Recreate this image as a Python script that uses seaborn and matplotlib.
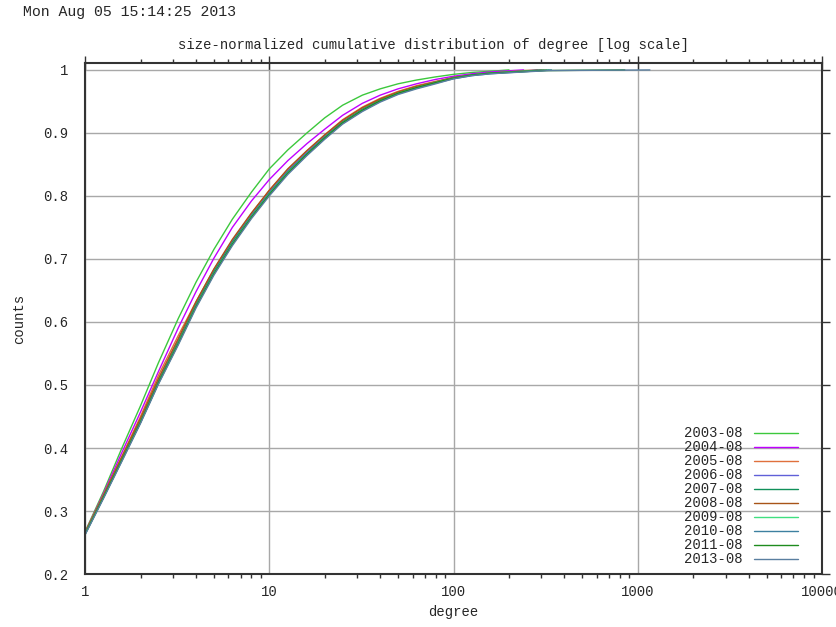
import numpy as np
import pandas as pd
import matplotlib
matplotlib.use('Agg')
import matplotlib.pyplot as plt
import matplotlib.ticker as mticker
import seaborn as sns

# data: cumulative share of nodes with degree <= d
months = ['2003-08', '2004-08', '2005-08', '2006-08', '2007-08',
          '2008-08', '2009-08', '2010-08', '2011-08', '2013-08']
degree = [1, 1.26, 1.58, 2, 2.5, 3.2, 4, 5, 6.3, 8, 10, 12.6, 16, 20, 25,
          32, 40, 50, 63, 80, 100, 126, 160]

cdf_2003 = [.267, .331, .399, .467, .535, .605, .663, .715, .763, .806, .843, .873, .900, .924, .944, .960, .970, .978, .984, .989, .993, .996, .998]
cdf_2004 = [.266, .328, .392, .457, .521, .590, .648, .701, .750, .792, .826, .856, .883, .906, .928, .947, .960, .970, .978, .985, .990, .994, .997]
cdf_2005 = [.266, .326, .386, .450, .515, .578, .632, .683, .729, .772, .809, .842, .871, .897, .921, .941, .955, .966, .975, .982, .988, .992, .995]
cdf_2006 = [.265, .324, .383, .444, .507, .570, .629, .681, .728, .770, .806, .840, .869, .895, .918, .938, .953, .964, .973, .981, .988, .992, .995]
cdf_2007 = [.264, .323, .381, .442, .505, .568, .627, .679, .726, .768, .804, .838, .867, .893, .917, .937, .952, .963, .972, .980, .987, .992, .995]
cdf_2008 = [.266, .325, .385, .447, .510, .573, .632, .684, .731, .773, .809, .843, .872, .897, .920, .940, .954, .965, .974, .981, .988, .992, .995]
cdf_2009 = [.264, .322, .380, .441, .503, .566, .625, .677, .724, .767, .803, .837, .866, .892, .916, .936, .951, .963, .972, .980, .987, .992, .995]
cdf_2010 = [.263, .321, .379, .440, .502, .565, .624, .676, .723, .766, .802, .836, .865, .891, .915, .935, .950, .962, .971, .979, .986, .991, .994]
cdf_2011 = [.263, .322, .380, .441, .503, .565, .624, .676, .723, .766, .802, .836, .866, .892, .916, .936, .951, .963, .972, .980, .987, .992, .995]
cdf_2013 = [.262, .320, .378, .439, .501, .563, .622, .674, .721, .764, .800, .834, .864, .890, .914, .934, .949, .961, .970, .978, .986, .991, .994]

# degree where the curve is ~0.999, and the max degree (curve = 1)
top_degree = [180, 210, 240, 260, 270, 280, 290, 300, 320, 330]
max_degree = [200, 240, 285, 300, 310, 320, 330, 340, 850, 1164]

colors = ['#3cc83c', '#c000ff', '#e0703c', '#6060d8', '#10905a',
          '#a85418', '#40e080', '#3d80a0', '#1e8c1e', '#5a7fa0']

all_cdf = [cdf_2003, cdf_2004, cdf_2005, cdf_2006, cdf_2007,
           cdf_2008, cdf_2009, cdf_2010, cdf_2011, cdf_2013]

rows = []
for m, vals, td, md in zip(months, all_cdf, top_degree, max_degree):
    for d, v in zip(degree, vals):
        rows.append((m, d, v))
    rows.append((m, td, 0.999))
    rows.append((m, md, 1.0))
df = pd.DataFrame(rows, columns=['month', 'degree', 'counts'])

sns.set_theme(style='white')
plt.rcParams['font.family'] = ['Liberation Mono', 'DejaVu Sans Mono']
plt.rcParams['font.size'] = 10

fig = plt.figure(figsize=(8.37, 6.27), dpi=100)
ax = fig.add_axes([0.1016, 0.0845, 0.8805, 0.815])

sns.lineplot(data=df, x='degree', y='counts', hue='month', palette=colors,
             sort=True, estimator=None, linewidth=1.0, ax=ax, legend=True)

ax.set_xscale('log')
ax.set_xlim(1, 10000)
ax.set_ylim(0.2, 1.011)
ax.set_xticks([1, 10, 100, 1000, 10000])
ax.set_xticklabels(['1', '10', '100', '1000', '10000'])
ax.xaxis.set_minor_locator(mticker.LogLocator(base=10, subs=np.arange(2, 10)))
ax.xaxis.set_minor_formatter(mticker.NullFormatter())
ax.set_yticks([0.2, 0.3, 0.4, 0.5, 0.6, 0.7, 0.8, 0.9, 1.0])
ax.set_yticklabels(['0.2', '0.3', '0.4', '0.5', '0.6', '0.7', '0.8', '0.9', '1'])

ax.grid(True, which='major', color='#a8a8a8', linewidth=1.0)
ax.set_axisbelow(True)
for s in ax.spines.values():
    s.set_color('#333333')
    s.set_linewidth(1.5)
ax.tick_params(axis='both', which='major', direction='out', length=6, width=1,
               color='#333333', top=True, right=True, labelsize=10, pad=6)
ax.tick_params(axis='x', which='major', direction='inout', length=10, pad=3)
ax.tick_params(axis='x', which='minor', direction='out', length=3, width=1,
               color='#333333', top=True, bottom=True)

ax.set_xlabel('degree', fontsize=10, labelpad=4)
ax.set_ylabel('counts', fontsize=10, labelpad=12)

handles, labels = ax.get_legend_handles_labels()
ax.legend(handles, labels, loc='lower right', bbox_to_anchor=(0.975, 0.004),
          frameon=False, markerfirst=False, handlelength=3.2, handletextpad=0.8,
          labelspacing=0.0, fontsize=10, borderaxespad=0)

fig.text(23 / 837, 1 - 12 / 627, 'Mon Aug 05 15:14:25 2013', ha='left', va='center', fontsize=10.7)
fig.text(433 / 837, 1 - 45 / 627, 'size-normalized cumulative distribution of degree [log scale]',
         ha='center', va='center', fontsize=10)

fig.savefig('out.png', dpi=100)
